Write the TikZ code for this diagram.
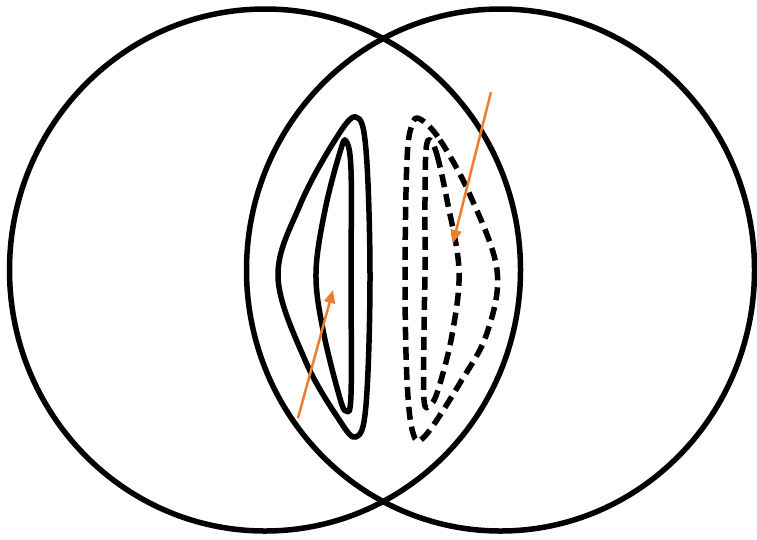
\documentclass[tikz,border=0pt]{standalone}
\usepackage{tikz}
\usetikzlibrary{arrows.meta}
\usepackage{xcolor}
\definecolor{arrowor}{HTML}{ED7D31}

\begin{document}
\begin{tikzpicture}[x=1pt, y=-1pt,
  set/.style={line width=5.5pt},
  level/.style={line width=5.5pt, line join=round},
  dashlevel/.style={level, dash pattern=on 13pt off 7pt},
  grad/.style={arrowor, line width=2.5pt, -{Triangle[length=13pt, width=11pt]}}
]
\useasboundingbox (0,0) rectangle (757,539);

% the two sets
\draw[set] (265,270) ellipse [x radius=255.5, y radius=261];
\draw[set] (500.5,270) ellipse [x radius=254, y radius=261];

% solid level curves
\draw[level] plot[smooth cycle, tension=0.6] coordinates {
  (356,117) (366,150) (370,277) (366,405) (356,437) (338,418)
  (305,360) (278,277) (300,205) (335,140)};
\draw[level] plot[smooth cycle, tension=0.6] coordinates {
  (346,141) (351,170) (351,277) (351,395) (346,411) (339,395)
  (323,330) (316,273) (325,210) (340,152)};

% dashed level curves
\draw[dashlevel] plot[smooth cycle, tension=0.6] coordinates {
  (420,119) (440,140) (470,195) (497,270) (487,333) (460,383)
  (425,436) (413,433) (407,380) (405,277) (407,160) (412,125)};
\draw[dashlevel] plot[smooth cycle, tension=0.6] coordinates {
  (430,140) (437,155) (447,200) (459,270) (452,335) (438,390)
  (430,405) (424,400) (424,330) (425,270) (425,200) (426,150)};

% directions
\coordinate (a1) at (298,418);
\coordinate (b1) at (333,290);
\coordinate (a2) at (491,92);
\coordinate (b2) at (453,243);
\draw[grad] (a1) -- (b1);
\draw[grad] (a2) -- (b2);
\end{tikzpicture}
\end{document}
